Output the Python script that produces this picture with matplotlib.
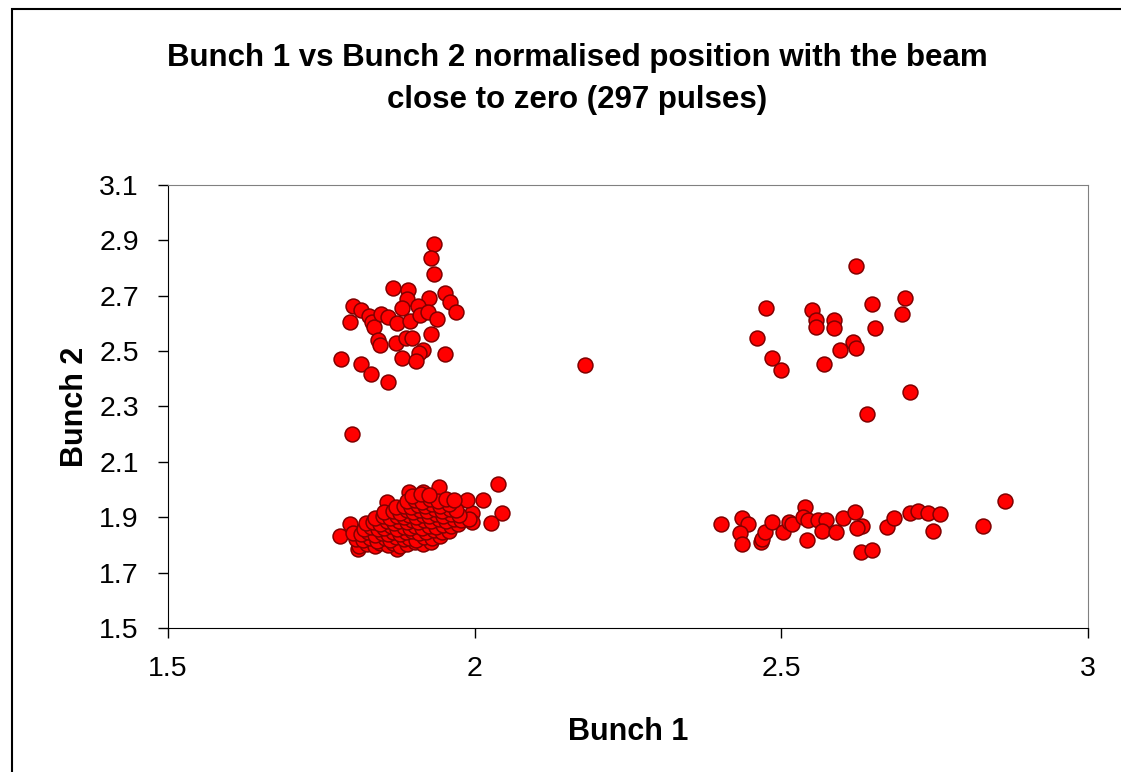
import matplotlib.pyplot as plt
from matplotlib.patches import Rectangle

# Pulsos con el haz cerca de cero: Bunch 1 (x) vs Bunch 2 (y)

# grupo superior izquierdo
x_ul = [1.933, 1.929, 1.933, 1.867, 1.891, 1.889, 1.926, 1.952, 1.959, 1.969,
        1.802, 1.815, 1.827, 1.832, 1.835, 1.796, 1.848, 1.859, 1.874, 1.881,
        1.895, 1.907, 1.911, 1.924, 1.939, 1.842, 1.846, 1.871, 1.888, 1.897,
        1.929, 1.916, 1.909, 1.881, 1.904, 1.952, 1.782, 1.815, 1.831, 1.858,
        1.800, 2.180]
y_ul = [2.887, 2.835, 2.779, 2.727, 2.721, 2.687, 2.691, 2.709, 2.679, 2.640,
        2.663, 2.649, 2.627, 2.606, 2.586, 2.604, 2.634, 2.624, 2.603, 2.655,
        2.610, 2.663, 2.631, 2.643, 2.617, 2.540, 2.522, 2.530, 2.546, 2.546,
        2.561, 2.504, 2.494, 2.476, 2.466, 2.489, 2.470, 2.454, 2.417, 2.389,
        2.200, 2.450]

# grupo superior derecho
x_ur = [2.621, 2.702, 2.647, 2.696, 2.475, 2.550, 2.556, 2.556, 2.585, 2.585,
        2.653, 2.461, 2.617, 2.621, 2.595, 2.484, 2.500, 2.569, 2.709, 2.640]
y_ur = [2.807, 2.691, 2.670, 2.634, 2.655, 2.649, 2.612, 2.588, 2.612, 2.582,
        2.582, 2.546, 2.534, 2.510, 2.503, 2.474, 2.432, 2.452, 2.351, 2.273]

# grupo inferior derecho
x_lr = [2.402, 2.435, 2.445, 2.432, 2.435, 2.467, 2.468, 2.473, 2.484, 2.503,
        2.513, 2.517, 2.539, 2.536, 2.544, 2.542, 2.559, 2.573, 2.566, 2.589,
        2.601, 2.620, 2.631, 2.624, 2.630, 2.647, 2.673, 2.683, 2.709, 2.722,
        2.739, 2.759, 2.748, 2.829, 2.865]
y_lr = [1.876, 1.898, 1.876, 1.842, 1.803, 1.812, 1.820, 1.848, 1.884, 1.848,
        1.882, 1.875, 1.936, 1.902, 1.890, 1.818, 1.890, 1.890, 1.852, 1.846,
        1.896, 1.918, 1.870, 1.860, 1.776, 1.780, 1.866, 1.896, 1.917, 1.924,
        1.917, 1.911, 1.852, 1.870, 1.960]

# grupo inferior izquierdo (denso)
x_ll = [1.780, 1.796, 1.809, 2.038, 2.044, 2.027, 2.014, 1.995, 1.995, 1.987,
        1.942, 1.893, 1.916, 1.857, 1.874, 1.816,
        1.812, 1.825, 1.838, 1.846, 1.858, 1.866, 1.879, 1.889, 1.902, 1.915, 1.928,
        1.806, 1.818, 1.829, 1.841, 1.853, 1.862, 1.871, 1.884, 1.893, 1.905, 1.917, 1.931, 1.944,
        1.802, 1.815, 1.826, 1.837, 1.849, 1.858, 1.867, 1.879, 1.888, 1.897, 1.909, 1.921, 1.933, 1.946, 1.958,
        1.819, 1.831, 1.843, 1.852, 1.864, 1.873, 1.885, 1.894, 1.903, 1.914, 1.925, 1.937, 1.949, 1.961, 1.972,
        1.822, 1.834, 1.846, 1.857, 1.868, 1.877, 1.889, 1.898, 1.908, 1.918, 1.929, 1.941, 1.953, 1.966, 1.978, 1.990,
        1.838, 1.851, 1.862, 1.874, 1.884, 1.893, 1.904, 1.915, 1.926, 1.937, 1.949, 1.962, 1.975,
        1.852, 1.866, 1.879, 1.889, 1.899, 1.911, 1.923, 1.935, 1.947, 1.960, 1.970,
        1.872, 1.885, 1.896, 1.907, 1.919, 1.931, 1.944, 1.958,
        1.889, 1.902, 1.914, 1.927, 1.940, 1.953, 1.967,
        1.898, 1.912, 1.926]
y_ll = [1.832, 1.876, 1.784, 2.020, 1.917, 1.880, 1.962, 1.914, 1.884, 1.962,
        2.009, 1.992, 1.992, 1.956, 1.784, 1.818,
        1.798, 1.804, 1.795, 1.806, 1.801, 1.808, 1.797, 1.805, 1.810, 1.803, 1.812,
        1.823, 1.818, 1.826, 1.815, 1.824, 1.819, 1.828, 1.821, 1.826, 1.817, 1.830, 1.824, 1.832,
        1.842, 1.838, 1.846, 1.836, 1.844, 1.840, 1.848, 1.839, 1.845, 1.850, 1.842, 1.847, 1.853, 1.845, 1.851,
        1.858, 1.864, 1.856, 1.862, 1.867, 1.859, 1.865, 1.861, 1.869, 1.863, 1.870, 1.866, 1.872, 1.868, 1.875,
        1.878, 1.883, 1.876, 1.885, 1.880, 1.887, 1.882, 1.889, 1.884, 1.891, 1.886, 1.893, 1.888, 1.895, 1.890, 1.892,
        1.898, 1.903, 1.896, 1.905, 1.900, 1.907, 1.902, 1.909, 1.904, 1.911, 1.906, 1.913, 1.909,
        1.918, 1.922, 1.916, 1.925, 1.920, 1.927, 1.922, 1.929, 1.924, 1.931, 1.926,
        1.938, 1.942, 1.936, 1.945, 1.940, 1.947, 1.942, 1.949,
        1.958, 1.962, 1.956, 1.965, 1.960, 1.967, 1.962,
        1.978, 1.984, 1.981]

x_all = x_ll + x_ul + x_ur + x_lr
y_all = y_ll + y_ul + y_ur + y_lr

plt.rcParams['font.family'] = ['Liberation Sans', 'DejaVu Sans']

fig = plt.figure(figsize=(11.21, 7.72), dpi=100)
ax = fig.add_axes([0.1499, 0.1865, 0.8207, 0.5739])

ax.scatter(x_all, y_all, s=115, c='#ff0000', edgecolors='#800000',
           linewidths=1.1, zorder=3, clip_on=False)

ax.set_xlim(1.5, 3)
ax.set_ylim(1.5, 3.1)
ax.set_xticks([1.5, 2, 2.5, 3])
ax.set_xticklabels(['1.5', '2', '2.5', '3'])
ax.set_yticks([1.5, 1.7, 1.9, 2.1, 2.3, 2.5, 2.7, 2.9, 3.1])
ax.tick_params(axis='both', direction='out', length=7, width=1, labelsize=20.5)
ax.tick_params(axis='x', pad=13)
ax.tick_params(axis='y', pad=14)

ax.spines['left'].set_color('black')
ax.spines['bottom'].set_color('black')
ax.spines['top'].set_color('#808080')
ax.spines['right'].set_color('#808080')

ax.set_xlabel('Bunch 1', fontsize=22, fontweight='bold')
ax.set_ylabel('Bunch 2', fontsize=22, fontweight='bold')
ax.xaxis.set_label_coords(0.5, -0.2)
ax.yaxis.set_label_coords(-0.085, 0.5)

fig.text(0.515, 0.8976, 'Bunch 1 vs Bunch 2 normalised position with the beam\nclose to zero (297 pulses)',
         ha='center', va='center', fontsize=22.5, fontweight='bold', linespacing=1.5)

# borde de la figura
fig.patches.append(Rectangle((12 / 1121, -0.1), 1.2, 1 - 9 / 772 + 0.1,
                             transform=fig.transFigure, fill=False,
                             edgecolor='black', linewidth=1.5))

fig.savefig('out.png', dpi=100)
